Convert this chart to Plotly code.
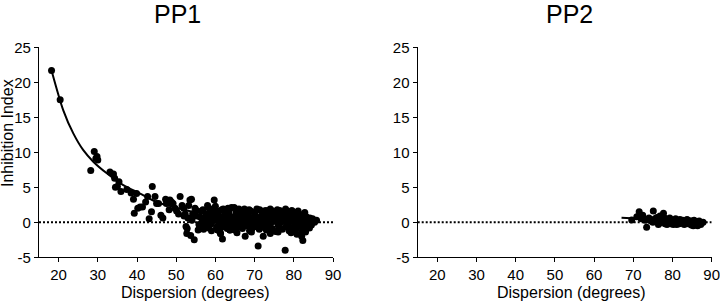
import plotly.graph_objects as go

W, H = 720, 302

# ---------------- data ----------------
pp1_x = [18.2, 20.4, 28.2, 29.1, 29.5, 30.0, 29.8, 33.1, 34.0, 34.3, 34.5, 35.0, 35.4, 35.9, 37.4, 38.5,
         39.1, 39.3, 39.9, 40.2, 40.8, 41.4, 42.2, 42.7, 43.1, 43.7, 43.9, 44.6, 45.0, 45.5, 46.1, 46.6,
         47.3, 47.5, 48.4, 48.8, 49.2, 48.2, 49.7, 50.1, 51.0, 50.6, 51.5, 51.9, 52.3, 52.5, 52.7, 52.8,
         53.2, 53.5, 53.9, 53.7, 54.6, 54.2, 54.8, 55.2, 55.6, 55.8, 56.0, 56.5, 56.8, 57.2, 57.7, 58.0,
         58.4, 58.9, 59.7, 59.8, 60.2, 60.6, 61.1, 61.3, 61.8, 62.0, 62.8, 63.3, 63.7, 64.1, 64.5,
         # dense upper
         60.5, 61.6, 62.4, 63.5, 64.8, 65.3, 66.2, 67.4, 68.1, 69.0, 70.2, 71.3, 72.0, 72.9, 73.8, 74.6,
         75.5, 76.4, 77.3, 78.2, 79.0, 79.8, 80.7, 81.5, 82.3, 83.2, 84.1,
         57.5, 58.6, 59.3, 60.1, 61.0, 61.8, 62.7, 63.6, 64.3, 65.1, 65.9, 66.7, 67.6, 68.5, 69.3, 70.0,
         70.8, 71.7, 72.5, 73.4, 74.2, 75.0, 75.9, 76.8, 77.6, 78.5, 79.4, 80.2, 81.0, 81.9, 82.7, 83.6,
         84.6, 85.8,
         58.0, 59.0, 59.9, 60.8, 61.5, 62.3, 63.1, 63.9, 64.7, 65.6, 66.4, 67.2, 68.0, 68.8, 69.7, 70.5,
         71.4, 72.2, 73.1, 73.9, 74.8, 75.7, 76.5, 77.4, 78.3, 79.1, 80.0, 80.9, 81.7, 82.5, 83.4, 84.3,
         60.3, 61.2, 62.1, 63.0, 64.0, 64.9, 65.8, 66.9, 67.8, 68.7, 69.5, 70.4, 71.2, 72.1, 73.0, 73.7,
         74.5, 75.3, 76.2, 77.1, 78.0, 78.8, 79.6, 80.5, 81.3, 82.1, 82.9, 83.8,
         60.6, 61.3, 63.7, 65.5, 67.6, 69.2, 70.9, 72.2, 74.0, 76.0, 77.8, 79.3, 80.8, 82.0, 82.3, 83.0,
         58.8, 59.5, 60.0, 62.0, 63.2, 66.0, 68.6, 70.6, 72.4, 74.0, 75.8, 77.9, 79.5, 81.1, 82.8,
         61.4, 64.4, 67.0, 69.9, 72.8, 75.4, 78.0, 80.6, 83.0,
         62.6, 65.2, 68.3, 71.0, 73.5, 76.0, 78.6, 81.5, 84.0,
         84.8, 85.3, 84.5,
         52.0, 53.0, 54.0, 55.0, 56.2, 57.0, 57.5, 58.3, 59.0, 56.6]
pp1_y = [21.7, 17.5, 7.4, 10.1, 9.1, 8.9, 9.4, 7.2, 6.9, 6.3, 5.0, 5.1, 5.8, 4.4, 4.7, 4.2,
         3.3, 1.3, 4.1, 2.0, 2.2, 2.2, 2.9, 3.7, 0.5, 1.5, 5.1, 3.7, 2.7, 2.7, 1.0, 0.6,
         3.3, 2.7, 3.2, 2.9, 2.7, 1.8, 2.0, 1.6, 3.7, 1.2, 2.4, 2.0, 1.2, -0.6, -1.6, -0.9,
         2.4, 3.2, 3.3, -1.9, -2.5, 1.2, 2.0, 1.7, -1.1, -0.3, 0.8, 1.6, 1.8, 0.1, 1.2, 2.4,
         2.0, 0.3, 3.2, 1.2, 1.7, -1.1, 0.3, -1.6, -2.4, 0.1, 0.6, 1.2, -1.1, 2.1, -0.1,
         1.5, 1.8, 1.3, 1.6, 2.1, 1.4, 1.7, 1.9, 1.3, 1.6, 1.5, 1.8, 1.2, 1.7, 1.4, 1.6,
         1.3, 1.7, 1.5, 1.6, 1.2, 1.5, 1.3, 1.0, 1.1, 0.8, 0.6,
         0.9, 0.6, 1.0, 0.7, 0.9, 0.5, 0.8, 1.0, 0.6, 0.9, 0.5, 1.1, 0.7, 0.9, 0.5, 1.0,
         0.7, 0.9, 0.6, 1.0, 0.7, 0.9, 0.5, 1.0, 0.7, 0.9, 0.6, 1.0, 0.7, 0.5, 0.9, 0.3,
         0.2, 0.3,
         0.2, -0.2, 0.3, 0.0, -0.3, 0.4, 0.1, -0.2, 0.3, 0.0, -0.3, 0.2, 0.0, 0.4, -0.2, 0.1,
         0.3, -0.1, 0.2, -0.3, 0.1, 0.4, -0.1, 0.2, -0.2, 0.3, 0.0, -0.3, 0.2, -0.1, 0.0, -0.2,
         -0.7, -1.0, -0.6, -0.9, -0.5, -1.1, -0.7, -0.9, -0.5, -1.2, -0.8, -0.6, -1.0, -0.7, -1.1, -0.5,
         -0.9, -1.3, -0.7, -1.0, -0.6, -1.2, -0.8, -1.0, -0.6, -1.3, -0.8, -0.5,
         -1.1, -1.6, -1.1, -1.5, -2.0, -1.4, -3.4, -2.0, -1.6, -1.4, -4.0, -1.5, -1.7, -2.0, -2.6, -1.4,
         1.4, 1.9, 2.3, 1.9, 2.0, 1.9, 1.8, 1.9, 1.6, 1.9, 1.8, 1.9, 1.7, 1.6, 1.4,
         0.4, 0.2, 0.5, 0.6, 0.4, 0.6, 0.3, 0.5, 0.5,
         -0.3, -0.4, -0.4, -0.3, -0.6, -0.4, -0.5, -0.4, -0.8,
         0.5, 0.0, -0.4,
         0.9, 0.6, 0.3, 0.9, -0.6, -1.0, -0.4, -0.8, -1.2, 0.4]

pp1_fit_x = [18.2, 21.2, 23.75, 26.3, 28.85, 32.3, 36.5, 40.8, 45.0, 49.3, 54.4, 60.0, 70.0, 80.0, 86.0]
pp1_fit_y = [21.7, 16.0, 12.7, 10.3, 8.66, 7.0, 5.3, 4.1, 2.9, 2.2, 1.5, 1.1, 0.7, 0.55, 0.5]

pp2_x = [69.6, 70.9, 71.5, 72.4, 73.4, 74.0, 75.1, 76.0, 77.7, 76.8, 73.0, 72.0,
         74.5, 75.0, 75.5, 76.2, 76.7, 77.2, 77.6, 78.1, 78.4, 78.9, 79.3, 79.6, 80.0, 80.4, 80.8, 81.1,
         81.5, 81.9, 82.2, 82.6, 83.0, 83.3, 83.7, 84.0, 84.4, 84.8, 85.1, 85.5, 85.8, 86.2, 86.6, 87.0,
         87.4, 87.8,
         75.8, 76.4, 77.0, 77.9, 78.6, 79.1, 79.9, 80.6, 81.3, 82.0, 82.8, 83.5, 84.2, 84.9, 85.6, 86.4,
         85.3, 84.6, 83.9, 82.4, 81.7, 80.2, 79.4, 78.0, 76.9, 75.3, 74.2, 86.8, 87.2]
pp2_y = [0.33, 0.8, 1.5, 1.0, -0.7, 0.6, 1.6, 0.7, 1.3, 0.9, 0.3, 0.5,
         0.2, 0.0, 0.5, 0.3, -0.1, 0.5, 0.1, -0.2, 0.4, 0.1, 0.6, -0.2, 0.3, 0.0, 0.5, -0.3,
         0.2, 0.4, -0.1, 0.3, -0.3, 0.1, 0.4, -0.2, 0.2, -0.4, 0.0, 0.3, -0.3, 0.1, -0.2, 0.0,
         -0.1, 0.0,
         0.2, -0.3, 0.2, 0.3, -0.3, 0.2, 0.0, 0.2, -0.1, 0.1, -0.1, 0.2, 0.0, 0.2, -0.1, -0.5,
         -0.5, -0.1, 0.3, 0.0, -0.2, -0.3, 0.4, 0.6, 0.4, 0.3, 0.4, 0.2, -0.3]

pp2_fit_x = [67.0, 72.0, 78.0, 84.0, 88.0]
pp2_fit_y = [0.65, 0.5, 0.3, 0.1, 0.0]

ref_x = [15, 90]
ref_y = [0, 0]

x_ticks = [20, 30, 40, 50, 60, 70, 80, 90]
y_ticks = [-5, 0, 5, 10, 15, 20, 25]
y_tick_text = ["-5", "0", "5", "10", "15", "20", "25"]

titles = ["PP1", "PP2"]
x_title = "Dispersion (degrees)"
y_title = "Inhibition Index"

# ---------------- figure ----------------
FONT = "Arial, 'Liberation Sans', Helvetica, sans-serif"

def px_x(p):
    return p / W

def px_y(p):
    return 1 - p / H

fig = go.Figure()

panels = [
    (pp1_x, pp1_y, pp1_fit_x, pp1_fit_y, "x", "y"),
    (pp2_x, pp2_y, pp2_fit_x, pp2_fit_y, "x2", "y2"),
]
for sx, sy, fx, fy, xa, ya in panels:
    fig.add_trace(go.Scatter(x=ref_x, y=ref_y, mode="lines", xaxis=xa, yaxis=ya,
                             line=dict(color="black", width=2, dash="2px,2px"),
                             hoverinfo="skip", showlegend=False))
    fig.add_trace(go.Scatter(x=sx, y=sy, mode="markers", xaxis=xa, yaxis=ya,
                             marker=dict(color="black", size=7, line=dict(width=0)),
                             showlegend=False))
    fig.add_trace(go.Scatter(x=fx, y=fy, mode="lines", xaxis=xa, yaxis=ya,
                             line=dict(color="black", width=2, shape="spline", smoothing=0.8),
                             showlegend=False))

ydom = [px_y(257.3), px_y(47.3)]
axis_common = dict(showline=True, linecolor="black", linewidth=1.3, ticks="outside",
                   ticklen=4, tickwidth=1.3, tickcolor="black", showgrid=False,
                   zeroline=False, automargin=False, ticklabeloverflow="allow",
                   tickfont=dict(family=FONT, size=15, color="black"))

fig.update_layout(
    width=W, height=H,
    margin=dict(l=0, r=0, t=0, b=0, pad=0, autoexpand=False),
    paper_bgcolor="white", plot_bgcolor="white",
    font=dict(family=FONT, color="black"),
    xaxis=dict(domain=[px_x(39), px_x(333)], range=[15, 90], tickvals=x_ticks,
               anchor="y", **axis_common),
    yaxis=dict(domain=ydom, range=[-5, 25], tickvals=y_ticks, ticktext=y_tick_text,
               anchor="x", **axis_common),
    xaxis2=dict(domain=[px_x(417.7), px_x(711.7)], range=[15, 90], tickvals=x_ticks,
                anchor="y2", **axis_common),
    yaxis2=dict(domain=ydom, range=[-5, 25], tickvals=y_ticks, ticktext=y_tick_text,
                anchor="x2", **axis_common),
)

ann = []
for txt, cx in zip(titles, [177.5, 569]):
    ann.append(dict(text=txt, x=px_x(cx), y=px_y(14), xref="paper", yref="paper",
                    showarrow=False, xanchor="center", yanchor="middle",
                    font=dict(family=FONT, size=25, color="black")))
for cx in [195, 571]:
    ann.append(dict(text=x_title, x=px_x(cx), y=px_y(292.5), xref="paper", yref="paper",
                    showarrow=False, xanchor="center", yanchor="middle",
                    font=dict(family=FONT, size=16, color="black")))
ann.append(dict(text=y_title, x=px_x(8), y=px_y(133), xref="paper", yref="paper",
                showarrow=False, xanchor="center", yanchor="middle", textangle=-90,
                font=dict(family=FONT, size=16, color="black")))
fig.update_layout(annotations=ann)

fig.write_html("out.html", config={"displayModeBar": False},
               post_script="document.body.style.margin='0';document.body.style.overflow='hidden';")
